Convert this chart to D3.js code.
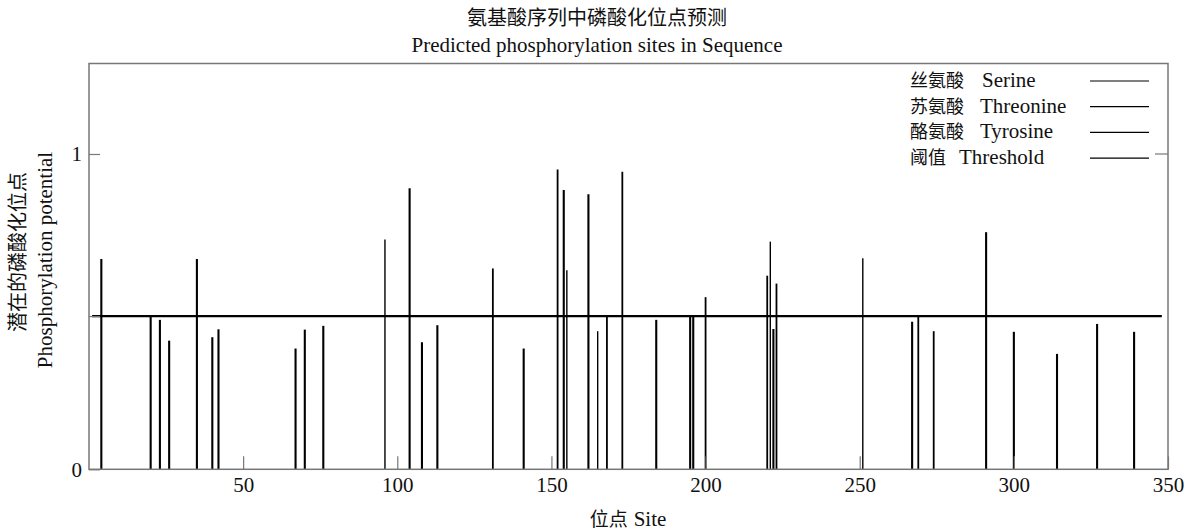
<!DOCTYPE html>
<html>
<head>
<meta charset="utf-8">
<script src="https://cdn.jsdelivr.net/npm/d3@7"></script>
<style>
  body { margin: 0; background: #fff; }
  svg { display: block; }
  text { font-family: "Liberation Serif", "Noto Sans CJK SC", serif; fill: #111; }
  .cjk { font-family: "Noto Sans CJK SC", sans-serif; }
</style>
</head>
<body>
<svg id="chart" width="1194" height="531"></svg>
<script>
// values
const serineSites = [4, 20, 23, 26, 35, 40, 42, 67, 70, 76, 104, 108, 113, 141, 154, 162, 184, 195, 196, 222, 267, 291, 300, 314, 327, 339];
const serineScores = [0.667, 0.484, 0.474, 0.408, 0.667, 0.419, 0.444, 0.383, 0.443, 0.455, 0.891, 0.403, 0.457, 0.383, 0.886, 0.872, 0.474, 0.486, 0.486, 0.445, 0.468, 0.752, 0.436, 0.366, 0.461, 0.436];

const threonineSites = [131, 152, 168, 173, 200, 220, 223, 269, 274];
const threonineScores = [0.637, 0.951, 0.484, 0.944, 0.546, 0.614, 0.589, 0.484, 0.438];

const tyrosineSites = [96, 155, 165, 221, 251];
const tyrosineScores = [0.729, 0.631, 0.438, 0.722, 0.669];

const thresholdValue = 0.486;
const thresholdRange = [1, 348];

const xTicks = [50, 100, 150, 200, 250, 300, 350];
const yTicks = [0, thresholdValue, 1];
const yTickLabels = ["0", "", "1"];

const legendNames = [["丝氨酸", "Serine"], ["苏氨酸", "Threonine"], ["酪氨酸", "Tyrosine"], ["阈值", "Threshold"]];

const svg = d3.select("#chart");
const frame = { left: 89, top: 63.5, right: 1168, bottom: 469.3 };
const axisColor = "#777";

const x = d3.scaleLinear().domain([0, 350]).range([frame.left, frame.right]);
const y = d3.scaleLinear().domain([0, 1.287]).range([frame.bottom, frame.top]);

svg.append("rect").attr("width", 1194).attr("height", 531).attr("fill", "#fff");

// title
svg.append("text").attr("class", "cjk")
  .attr("x", 597).attr("y", 24.5).attr("text-anchor", "middle")
  .style("font-size", "20px").text("氨基酸序列中磷酸化位点预测");
svg.append("text")
  .attr("x", 597).attr("y", 52).attr("text-anchor", "middle")
  .style("font-size", "21px").text("Predicted phosphorylation sites in Sequence");

// bars
const series = [
  { sites: serineSites, scores: serineScores, width: 2.1 },
  { sites: threonineSites, scores: threonineScores, width: 1.8 },
  { sites: tyrosineSites, scores: tyrosineScores, width: 1.4 }
];
const barLayer = svg.append("g");
series.forEach((s) => {
  barLayer.selectAll(null)
    .data(s.sites.map((site, i) => ({ site, score: s.scores[i] })))
    .enter()
    .append("line")
    .attr("x1", (d) => x(d.site)).attr("x2", (d) => x(d.site))
    .attr("y1", y(0)).attr("y2", (d) => y(d.score))
    .attr("stroke", "#000").attr("stroke-width", s.width);
});

// threshold
svg.append("line")
  .attr("x1", x(thresholdRange[0])).attr("x2", x(thresholdRange[1]))
  .attr("y1", y(thresholdValue)).attr("y2", y(thresholdValue))
  .attr("stroke", "#000").attr("stroke-width", 2.2);

// axes
const xAxis = svg.append("g")
  .attr("transform", `translate(0,${frame.bottom})`)
  .call(d3.axisBottom(x).tickValues(xTicks).tickSize(-13).tickPadding(8));
const yAxis = svg.append("g")
  .attr("transform", `translate(${frame.left},0)`)
  .call(d3.axisLeft(y).tickValues(yTicks).tickSize(-11).tickPadding(7)
    .tickFormat((d, i) => yTickLabels[i]));

[xAxis, yAxis].forEach((g) => {
  g.select(".domain").remove();
  g.selectAll(".tick line").attr("stroke", axisColor).attr("stroke-width", 1.2);
  g.selectAll(".tick text")
    .style("font-family", "'Liberation Serif', serif")
    .style("font-size", "21px").attr("fill", "#111");
});

// right-side tick at 1
svg.append("line")
  .attr("x1", frame.right).attr("x2", frame.right - 13)
  .attr("y1", y(1)).attr("y2", y(1))
  .attr("stroke", axisColor).attr("stroke-width", 1.2);

// frame
svg.append("rect")
  .attr("x", frame.left).attr("y", frame.top)
  .attr("width", frame.right - frame.left).attr("height", frame.bottom - frame.top)
  .attr("fill", "none").attr("stroke", axisColor).attr("stroke-width", 1.5);

// axis titles
const xTitle = svg.append("text").attr("x", 628).attr("y", 526).attr("text-anchor", "middle");
xTitle.append("tspan").attr("class", "cjk").style("font-size", "19px").text("位点");
xTitle.append("tspan").attr("dx", 6).style("font-size", "21px").text("Site");

svg.append("text").attr("class", "cjk")
  .attr("transform", "translate(25,252) rotate(-90)")
  .attr("text-anchor", "middle").style("font-size", "20px")
  .text("潜在的磷酸化位点");
svg.append("text")
  .attr("transform", "translate(52,260) rotate(-90)")
  .attr("text-anchor", "middle").style("font-size", "21px")
  .text("Phosphorylation potential");

// legend
const legend = svg.append("g");
const legendRows = legend.selectAll("g")
  .data(legendNames)
  .enter()
  .append("g")
  .attr("transform", (d, i) => `translate(0,${87 + i * 25.7})`);
const legendText = legendRows.append("text").attr("x", 910).attr("y", 0);
legendText.append("tspan").attr("class", "cjk").style("font-size", "18px").text((d) => d[0]);
legendText.append("tspan").attr("dx", (d, i) => [18, 16, 16, 13][i]).style("font-size", "21px").text((d) => d[1]);
legendRows.append("line")
  .attr("x1", 1090).attr("x2", 1149)
  .attr("y1", -6).attr("y2", -6)
  .attr("stroke", "#000").attr("stroke-width", 1.2);
</script>
</body>
</html>
